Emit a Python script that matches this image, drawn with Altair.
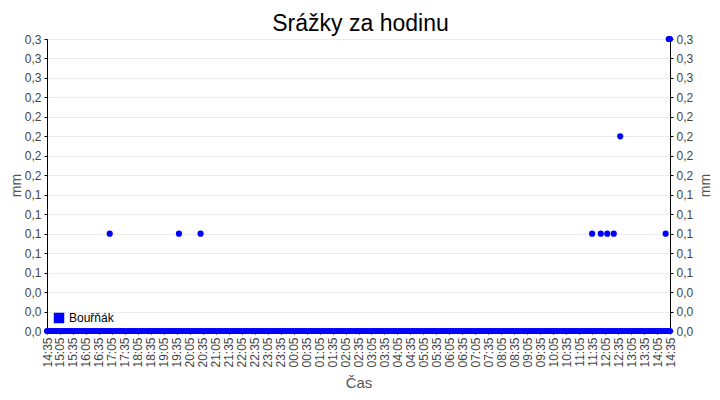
import altair as alt
import pandas as pd

# ---- data ----
series_name = "Bouřňák"
day_start = "14:35"                 # x axis runs 24 h from 14:35 to 14:35 next day
reading_step_min = 5                # zero readings every 5 minutes (continuous band at 0)
rain_times = ["17:00", "19:40", "20:30", "11:35", "11:55", "12:10",
              "12:25", "12:40", "14:25", "14:32", "14:35"]
rain_mm = [0.1, 0.1, 0.1, 0.1, 0.1, 0.1, 0.1, 0.2, 0.1, 0.3, 0.3]
y_ticks = [0.00, 0.02, 0.04, 0.06, 0.08, 0.10, 0.12, 0.14, 0.16,
           0.18, 0.20, 0.22, 0.24, 0.26, 0.28, 0.30]
x_tick_step_min = 30

sh, sm = map(int, day_start.split(":"))
start_min = sh * 60 + sm


def offset(t):
    h, m = map(int, t.split(":"))
    o = (h * 60 + m - start_min) % 1440
    return o if o else 1440


rows = [{"min": i, "mm": 0.0, "s": series_name} for i in range(0, 1441, reading_step_min)]
rows += [{"min": offset(t), "mm": v, "s": series_name} for t, v in zip(rain_times, rain_mm)]
df = pd.DataFrame(rows)

FONT = "Liberation Sans"
LBL = "#444444"

x_label_expr = (
    f"format(floor(((datum.value+{start_min})%1440)/60),'02d') + ':' + "
    f"format((datum.value+{start_min})%60,'02d')"
)

xenc = alt.X(
    "min:Q",
    scale=alt.Scale(domain=[0, 1440], nice=False, zero=False),
    axis=alt.Axis(
        values=list(range(0, 1441, x_tick_step_min)),
        labelExpr=x_label_expr,
        labelAngle=270,
        labelFontSize=12,
        labelFont=FONT,
        labelColor=LBL,
        labelPadding=3,
        tickSize=3,
        tickColor="black",
        domain=False,
        grid=False,
        title="Čas",
        titleFont=FONT,
        titleFontSize=15,
        titleFontWeight="normal",
        titleColor="#555555",
        titlePadding=8,
    ),
)

y_label_expr = "replace(format(datum.value, '.1f'), '.', ',')"
yscale = alt.Scale(domain=[0, 0.3], nice=False, zero=True)


def yaxis(orient, grid, tpad):
    return alt.Axis(
        orient=orient,
        values=y_ticks,
        labelExpr=y_label_expr,
        labelFontSize=12,
        labelFont=FONT,
        labelColor=LBL,
        labelPadding=3,
        tickSize=3,
        tickColor="black",
        domainColor="black",
        grid=grid,
        gridColor="#ebebeb",
        title="mm",
        titleAngle=270,
        titleFont=FONT,
        titleFontSize=14,
        titleFontWeight="normal",
        titleColor="#555555",
        titlePadding=tpad,
    )


points = alt.Chart(df).mark_circle(size=38, opacity=1).encode(
    x=xenc,
    y=alt.Y("mm:Q", scale=yscale, axis=yaxis("left", True, 1)),
    color=alt.Color(
        "s:N",
        scale=alt.Scale(range=["#0000ff"]),
        legend=alt.Legend(
            title=None,
            orient="none",
            legendX=6,
            legendY=273,
            symbolType="square",
            symbolSize=110,
            symbolStrokeWidth=0,
            labelFont=FONT,
            labelFontSize=12,
            labelColor="black",
            padding=0,
        ),
    ),
)

right = alt.Chart(df).mark_circle(opacity=0).encode(
    x=xenc,
    y=alt.Y("mm:Q", scale=yscale, axis=yaxis("right", False, 20)),
)

chart = (
    alt.layer(points, right)
    .resolve_scale(y="independent")
    .properties(
        width=623,
        height=292,
        autosize=alt.AutoSizeParams(type="none"),
        padding={"left": 39, "top": 31, "right": 42, "bottom": 61},
        title=alt.TitleParams(
            "Srážky za hodinu",
            font=FONT,
            fontSize=23,
            fontWeight="normal",
            color="black",
            offset=0,
            dy=3,
            dx=2,
        ),
    )
    .configure_view(stroke="black", strokeWidth=1)
    .configure(background="white")
)

chart.save("out.html", embed_options={"renderer": "svg", "actions": False})
